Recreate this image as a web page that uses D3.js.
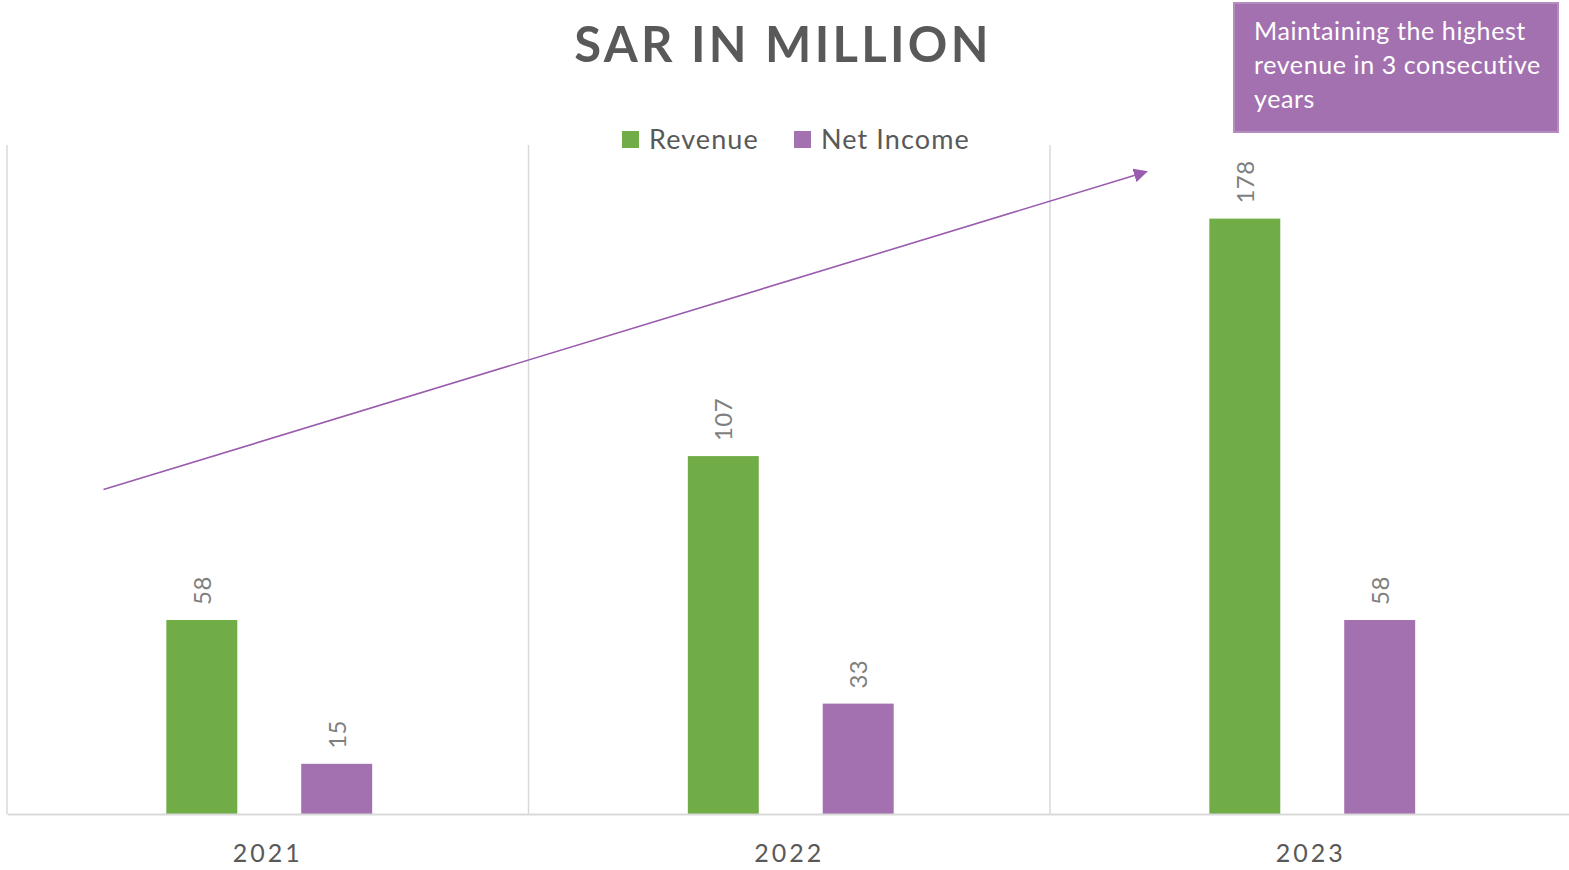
<!DOCTYPE html>
<html>
<head>
<meta charset="utf-8">
<script src="https://cdn.jsdelivr.net/npm/d3@7"></script>
<style>
  html, body { margin: 0; padding: 0; background: #fff; }
  svg { display: block; font-family: Lato, "Open Sans", sans-serif; }
</style>
</head>
<body>
<div id="chart"></div>
<script>
// Chart data
const years = ['2021', '2022', '2023'];
const seriesNames = ['Revenue', 'Net Income'];
const revenue = [58, 107, 178];
const netIncome = [15, 33, 58];
const seriesColors = ['#70ad47', '#a471b0'];
const noteLines = ['Maintaining the highest', 'revenue in 3 consecutive', 'years'];
// trend arrow: [year, fraction across band, value]
const arrowFrom = ['2021', 0.185, 97];
const arrowTo = ['2023', 0.185, 192];

const width = 1569, height = 870;
const margin = { top: 145, right: 0, bottom: 56, left: 7 };

const svg = d3.select('#chart').append('svg')
  .attr('width', width)
  .attr('height', height);

const x0 = d3.scaleBand().domain(years).range([margin.left, margin.left + 3 * 521.5]).padding(0);
const x1 = d3.scaleBand().domain(seriesNames).range([0, x0.bandwidth()])
  .paddingInner(0.474).paddingOuter(1.17);
const y = d3.scaleLinear().domain([0, 200]).range([height - margin.bottom, margin.top]);

const rows = years.map((yr, i) => ({ year: yr, values: [revenue[i], netIncome[i]] }));

// vertical category separators
svg.append('g').selectAll('line')
  .data(years)
  .join('line')
  .attr('x1', d => x0(d)).attr('x2', d => x0(d))
  .attr('y1', y(200)).attr('y2', y(0))
  .attr('stroke', '#d9d9d9').attr('stroke-width', 1.5);

// bars
const groups = svg.append('g').selectAll('g')
  .data(rows)
  .join('g')
  .attr('transform', d => `translate(${x0(d.year) + 1.5},0)`);

groups.selectAll('rect')
  .data(d => d.values.map((v, i) => ({ key: seriesNames[i], value: v, i })))
  .join('rect')
  .attr('x', d => x1(d.key))
  .attr('width', x1.bandwidth())
  .attr('y', d => y(d.value))
  .attr('height', d => y(0) - y(d.value))
  .attr('fill', d => seriesColors[d.i]);

// rotated value labels
groups.selectAll('text')
  .data(d => d.values.map((v, i) => ({ key: seriesNames[i], value: v })))
  .join('text')
  .attr('transform', d => `translate(${x1(d.key) + x1.bandwidth() / 2 + 9},${y(d.value) - 15}) rotate(-90)`)
  .attr('font-size', 24)
  .attr('letter-spacing', 0.5)
  .attr('fill', '#7f7f7f')
  .text(d => d.value);

// x axis
const xAxis = svg.append('g')
  .attr('transform', `translate(0,${y(0)})`)
  .call(d3.axisBottom(x0).tickSize(0).tickPadding(30));
xAxis.select('.domain').attr('stroke', '#d9d9d9').attr('stroke-width', 2);
xAxis.selectAll('text')
  .attr('font-family', 'Lato, "Open Sans", sans-serif')
  .attr('font-size', 25)
  .attr('letter-spacing', 3)
  .attr('fill', '#595959');

// title
svg.append('text')
  .attr('x', 783).attr('y', 62)
  .attr('text-anchor', 'middle')
  .attr('font-size', 49)
  .attr('font-weight', 'bold')
  .attr('letter-spacing', 3.3)
  .attr('fill', '#595959')
  .text('SAR IN MILLION');

// legend
const legendX = [622, 794];
const legend = svg.append('g').selectAll('g')
  .data(seriesNames)
  .join('g')
  .attr('transform', (d, i) => `translate(${legendX[i]},131)`);
legend.append('rect').attr('width', 17).attr('height', 17).attr('fill', (d, i) => seriesColors[i]);
legend.append('text')
  .attr('x', 27).attr('y', 18)
  .attr('font-size', 27)
  .attr('letter-spacing', 1.1)
  .attr('fill', '#595959')
  .text(d => d);

// trend arrow
svg.append('defs').append('marker')
  .attr('id', 'arrowhead')
  .attr('viewBox', '0 0 10 10')
  .attr('refX', 9).attr('refY', 5)
  .attr('markerWidth', 14).attr('markerHeight', 14)
  .attr('markerUnits', 'userSpaceOnUse')
  .attr('orient', 'auto')
  .append('path').attr('d', 'M0,0 L10,5 L0,10 Z').attr('fill', '#9a5cae');

const ax = d => x0(d[0]) + d[1] * x0.bandwidth();
svg.append('line')
  .attr('x1', ax(arrowFrom)).attr('y1', y(arrowFrom[2]))
  .attr('x2', ax(arrowTo)).attr('y2', y(arrowTo[2]))
  .attr('stroke', '#9a5cae').attr('stroke-width', 1.6)
  .attr('marker-end', 'url(#arrowhead)');

// note box
const note = svg.append('g').attr('transform', 'translate(1234,3)');
note.append('rect')
  .attr('width', 324).attr('height', 129)
  .attr('fill', '#a471b0')
  .attr('stroke', '#b58cc0').attr('stroke-width', 2);
note.selectAll('text')
  .data(noteLines)
  .join('text')
  .attr('x', 20).attr('y', (d, i) => 37 + i * 34)
  .attr('font-size', 25)
  .attr('letter-spacing', 0.6)
  .attr('fill', '#ffffff')
  .text(d => d);
</script>
</body>
</html>
